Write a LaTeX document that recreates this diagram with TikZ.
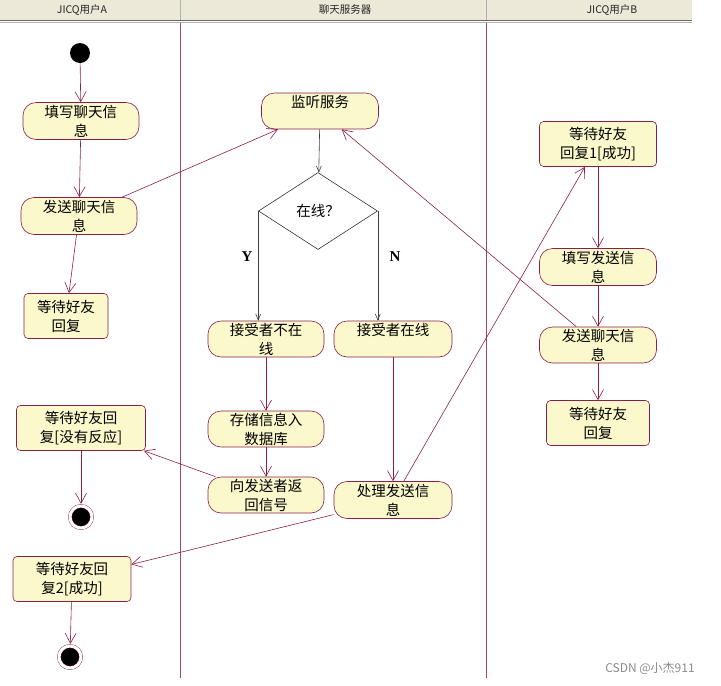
\documentclass[tikz,border=0pt]{standalone}
\usepackage{fontspec}
\usepackage{xcolor}
\usepackage{tikz}
\usetikzlibrary{arrows.meta,shapes.geometric}
\setmainfont{Noto Sans CJK SC}
\newfontfamily\ynfont{Liberation Serif}
\definecolor{rosefill}{HTML}{FBF8CC}
\definecolor{roseline}{HTML}{8C1E4B}
\definecolor{laneline}{HTML}{9A4A5E}
\definecolor{headbg}{HTML}{ECE9D8}

\begin{document}
\begin{tikzpicture}[x=1pt, y=-1pt,
    every node/.style={font=\fontsize{14.5}{19}\selectfont, align=center, inner sep=0pt},
    activity/.style={draw=roseline, line width=0.6pt, fill=rosefill, rounded corners=13pt, minimum width=117pt, minimum height=37pt},
    waitbox/.style={draw=roseline, line width=0.6pt, fill=rosefill, rounded corners=4pt, minimum height=45pt},
    startdot/.style={circle, fill=black, minimum size=20pt},
    enddot/.style={circle, draw=roseline, double=white, double distance=3pt, fill=black, minimum size=22pt},
    decision/.style={diamond, draw=black!80, line width=0.6pt, fill=white, minimum width=119pt, minimum height=77pt},
    flow/.style={draw=roseline, line width=0.6pt, -{Straight Barb[length=10pt,width=11pt]}},
    guard/.style={draw=black!75, line width=0.6pt, -{Straight Barb[length=6pt,width=5pt]}},
    lanehead/.style={font=\fontsize{10.5}{11}\selectfont, text=black!85}]

    \useasboundingbox (0,0) rectangle (721,686);

    % Swimlane header
    \fill[headbg] (0,0) rectangle (692,20);
    \draw[black!30] (180,0) -- (180,20);
    \draw[black!30] (486,0) -- (486,20);
    \draw[black!60, line width=1.2pt] (0,20.5) -- (692,20.5);
    \draw[black!30] (0,22.5) -- (692,22.5);
    \node[lanehead] (headA) at (82,10) {JICQ用户A};
    \node[lanehead] (headS) at (345,10) {聊天服务器};
    \node[lanehead] (headB) at (612,10) {JICQ用户B};

    % Lane borders
    \draw[laneline, line width=0.7pt] (180,23) -- (180,678);
    \draw[laneline, line width=0.7pt] (486,23) -- (486,678);

    % JICQ user A
    \node[startdot] (start) at (80,53) {};
    \node[activity, minimum width=116pt] (fillA) at (81,121) {填写聊天信\\息};
    \node[activity, minimum width=116pt] (sendA) at (79,216) {发送聊天信\\息};
    \node[waitbox, minimum width=84pt] (waitA) at (66,316) {等待好友\\回复};
    \node[waitbox, minimum width=129pt] (noreplyA) at (81,428) {等待好友回\\复[没有反应]};
    \node[enddot] (endA) at (81,517) {};
    \node[waitbox, minimum width=118pt] (okA) at (72,579) {等待好友回\\复2[成功]};
    \node[enddot] (endB) at (70,657) {};

    % Chat server
    \node[activity, minimum height=36pt] (listen) at (320,111) {监听服务\\\mbox{}};
    \node[decision] (online) at (318,211) {在线？};
    \node[font=\ynfont\bfseries\fontsize{15}{15}\selectfont] (yes) at (247,257) {Y};
    \node[font=\ynfont\bfseries\fontsize{15}{15}\selectfont] (no) at (395,257) {N};
    \node[activity, minimum width=116pt, minimum height=36pt] (absent) at (266,339) {接受者不在\\线};
    \node[activity, minimum width=118pt, minimum height=36pt] (present) at (393,339) {接受者在线\\\mbox{}};
    \node[activity, minimum width=116pt, minimum height=36pt] (store) at (266,429) {存储信息入\\数据库};
    \node[activity, minimum width=116pt, minimum height=36pt] (reply) at (266,495) {向发送者返\\回信号};
    \node[activity, minimum width=118pt] (process) at (393,500) {处理发送信\\息};

    % JICQ user B
    \node[waitbox, minimum width=117pt] (okB) at (598,144) {等待好友\\回复1[成功]};
    \node[activity] (fillB) at (598,267) {填写发送信\\息};
    \node[activity, minimum height=36pt] (sendB) at (598,345) {发送聊天信\\息};
    \node[waitbox, minimum width=103pt] (waitB) at (598,423) {等待好友\\回复};

    % Transitions
    \draw[flow] (start) -- (fillA);
    \draw[flow] (fillA) -- (sendA);
    \draw[flow] (sendA) -- (waitA);
    \draw[flow] (sendA) -- (listen);
    \draw[guard] (listen) -- (online);
    \draw[guard] (online.west) -- (online.west |- absent.north);
    \draw[guard] (online.east) -- (online.east |- present.north);
    \draw[flow] (absent) -- (store);
    \draw[flow] (store) -- (reply);
    \draw[flow] (reply) -- (noreplyA);
    \draw[flow] (present) -- (process);
    \draw[flow] (process) -- (okB);
    \draw[flow] (process) -- (okA);
    \draw[flow] (okB) -- (fillB);
    \draw[flow] (fillB) -- (sendB);
    \draw[flow] (sendB) -- (waitB);
    \draw[flow] (sendB) -- (listen);
    \draw[flow, shorten >=2pt] (noreplyA) -- (endA);
    \draw[flow, shorten >=2pt] (okA) -- (endB);

    \node[font=\fontsize{12}{12}\selectfont, text=black!45] (mark) at (650,668) {CSDN @小杰911};

\end{tikzpicture}
\end{document}
